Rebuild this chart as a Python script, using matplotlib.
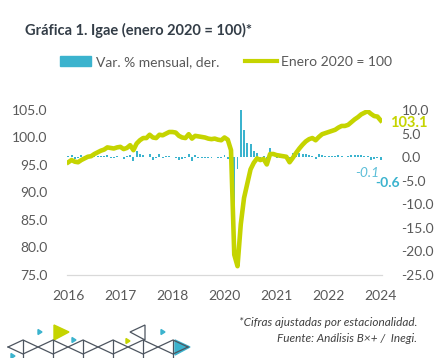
import matplotlib
matplotlib.use("Agg")
import matplotlib.pyplot as plt
from matplotlib.patches import Patch, Polygon
from matplotlib.lines import Line2D
import numpy as np

plt.rcParams["font.family"] = ["Lato", "DejaVu Sans"]

# IGAE, índice enero 2020 = 100, mensual ene-2016 .. ene-2024
igae = [
    95.5, 95.9, 95.6, 95.5, 95.9, 96.2, 96.5, 96.6, 97.0, 97.3, 97.6, 97.8,      # 2016
    98.2, 98.1, 98.0, 98.2, 98.3, 97.9, 98.1, 98.6, 97.7, 98.9, 99.5, 99.9,      # 2017
    99.9, 100.5, 100.0, 99.9, 100.5, 100.4, 100.7, 101.0, 101.0, 100.9, 100.3, 100.0,  # 2018
    99.9, 100.6, 99.8, 100.3, 100.2, 100.1, 100.0, 99.8, 99.7, 99.8, 99.6, 99.5,  # 2019
    100.0, 99.6, 97.7, 78.7, 76.6, 84.2, 89.0, 91.6, 94.2, 95.4, 96.2, 95.9,      # 2020
    96.1, 95.1, 97.0, 97.0, 96.8, 96.7, 96.6, 96.5, 95.5, 96.3, 97.2, 98.0,       # 2021
    98.7, 99.3, 99.7, 99.9, 99.5, 100.1, 100.6, 100.8, 101.0, 101.2, 101.4, 101.8,  # 2022
    102.1, 102.1, 102.3, 102.8, 103.3, 103.7, 104.2, 104.5, 104.8, 104.3, 103.9, 103.8,  # 2023
    103.1,                                                                        # 2024
]
# variación % mensual (eje derecho)
var_mensual = [
    0.3, 0.4, -0.3, -0.1, 0.4, 0.3, 0.3, 0.1, 0.4, 0.3, 0.3, 0.2,
    0.4, -0.1, -0.1, 0.2, 0.1, -0.4, 0.2, 0.5, -0.9, 1.2, 0.6, 0.4,
    0.0, 0.6, -0.5, -0.1, 0.6, -0.1, 0.3, 0.3, 0.0, -0.1, -0.6, -0.3,
    -0.1, 0.7, -0.8, 0.5, -0.1, -0.1, -0.1, -0.2, -0.1, 0.1, -0.2, -0.1,
    0.5, -0.4, -2.0, -19.5, -2.6, 10.0, 5.7, 2.9, 2.8, 1.3, 0.8, -0.3,
    0.2, -1.0, 2.0, 0.0, -0.2, -0.1, -0.1, -0.1, -1.0, 0.8, 0.9, 0.8,
    0.7, 0.6, 0.4, 0.2, -0.4, 0.6, 0.5, 0.2, 0.2, 0.2, 0.2, 0.4,
    0.3, 0.0, 0.2, 0.5, 0.5, 0.4, 0.5, 0.3, 0.3, -0.5, -0.4, -0.1,
    -0.6,
]
tick_pos = [0, 16, 32, 48, 64, 80, 96]
tick_labels = ["2016", "2017", "2018", "2020", "2021", "2022", "2024"]

LIME = "#C5D400"
BLUE = "#3BB3CE"
GRAY = "#595959"

W, H = 442, 358
fig = plt.figure(figsize=(W / 100, H / 100), dpi=100)

x = np.arange(len(igae))
ax = fig.add_axes([67 / W, 1 - 275 / H, (382 - 67) / W, (275 - 110) / H])
axl = ax.twinx()

ax.bar(x, var_mensual, width=0.6, color=BLUE, zorder=2)
ax.set_ylim(-25, 10)
rticks = np.arange(-25, 10.1, 5)
ax.set_yticks(rticks)
ax.set_yticklabels([f"{v:.1f}" for v in rticks])
ax.yaxis.tick_right()
ax.set_xlim(-0.4, 96.4)
ax.set_xticks(tick_pos)
ax.set_xticklabels(tick_labels)
ax.tick_params(axis="both", length=0, labelsize=10, labelcolor=GRAY)
ax.tick_params(axis="y", pad=14)
ax.tick_params(axis="x", pad=11)
for s in ["top", "left", "right"]:
    ax.spines[s].set_visible(False)
ax.spines["bottom"].set_color("#D9D9D9")
ax.spines["bottom"].set_linewidth(0.9)

axl.plot(x, igae, color=LIME, lw=3.3, solid_joinstyle="round", zorder=3)
axl.set_ylim(75, 105)
lticks = np.arange(75, 105.1, 5)
axl.set_yticks(lticks)
axl.set_yticklabels([f"{v:.1f}" for v in lticks])
axl.yaxis.tick_left()
axl.tick_params(axis="y", length=0, labelsize=10, labelcolor=GRAY, pad=14)
for s in axl.spines.values():
    s.set_visible(False)

# etiquetas de datos
axl.annotate(f"{igae[-1]:.1f}", (x[-1], igae[-1]), xytext=(7, -2), textcoords="offset points",
             color=LIME, fontsize=10.5, fontweight="bold", ha="left", va="center")
ax.annotate(f"{var_mensual[-2]:.1f}", (x[-2], var_mensual[-2]), xytext=(1.5, -11),
            textcoords="offset points", color="#5DBFD8", fontsize=10, style="italic",
            ha="right", va="center")
ax.annotate(f"{var_mensual[-1]:.1f}", (x[-1], var_mensual[-1]), xytext=(-4, -16.5),
            textcoords="offset points", color=BLUE, fontsize=10, fontweight="bold",
            ha="left", va="center")

fig.text(25 / W, 1 - 30 / H, "Gráfica 1. Igae (enero 2020 = 100)*", fontsize=10.5,
         fontweight="bold", color="#333D47", ha="left", va="center")

handles = [Patch(color=BLUE), Line2D([], [], color=LIME, lw=3)]
fig.legend(handles, ["Var. % mensual, der.", "Enero 2020 = 100"], loc="center",
           bbox_to_anchor=(226 / W, 1 - 62 / H), ncol=2, frameon=False, fontsize=10,
           labelcolor=GRAY, handlelength=2.3, handletextpad=0.3, columnspacing=1.9,
           handleheight=0.7)

fig.text(417 / W, 1 - 322 / H, "*Cifras ajustadas por estacionalidad.", fontsize=8.5,
         style="italic", color="#404040", ha="right", va="center")
fig.text(417 / W, 1 - 339 / H, "Fuente: Análisis B×+ /  Inegi.", fontsize=8.5,
         style="italic", color="#404040", ha="right", va="center")

# adorno geométrico (logo) abajo a la izquierda, en píxeles
deco = fig.add_axes([0, 0, 1, 1], zorder=-1)
deco.set_xlim(0, W)
deco.set_ylim(H, 0)
deco.axis("off")
xs = np.arange(8, 196, 15)
top = [340 if i % 2 else 347 for i in range(len(xs))]
bot = [354 if i % 2 else 347 for i in range(len(xs))]
deco.plot(xs, top, color="#4D5560", lw=0.9)
deco.plot(xs, bot, color="#4D5560", lw=0.9)
for i, xv in enumerate(xs):
    if i % 2:
        deco.plot([xv, xv], [340, 358], color="#4D5560", lw=0.9)
deco.add_patch(Polygon([[145, 325], [130, 332], [145, 340]], closed=True, fill=False,
                       ec="#4D5560", lw=0.9))
deco.add_patch(Polygon([[54, 325], [69, 332], [54, 340]], closed=True, color=LIME))
deco.add_patch(Polygon([[175, 340], [190, 347], [175, 355]], closed=True, color=BLUE))
for (cx, cy, c) in [(38, 332, BLUE), (72, 340, BLUE), (161, 332, BLUE), (126, 341, LIME),
                    (11, 356, BLUE)]:
    deco.add_patch(Polygon([[cx, cy - 2.5], [cx + 4, cy], [cx, cy + 2.5]], closed=True, color=c))

fig.savefig("out.png", dpi=100)
